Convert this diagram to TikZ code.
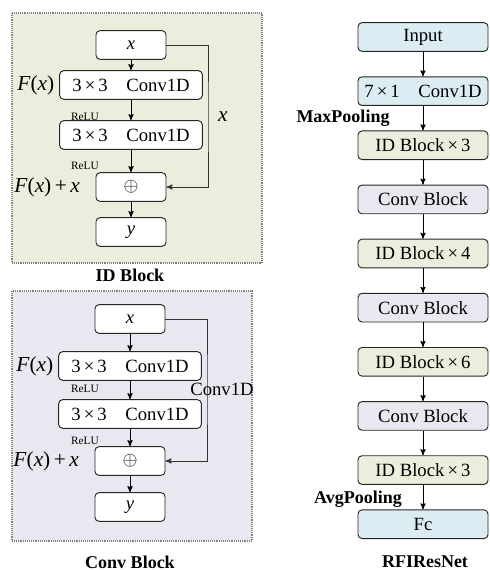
\documentclass[tikz,border=0pt]{standalone}
\usepackage{fontspec}
\setmainfont{Liberation Serif}
\usepackage{amsmath}
\usetikzlibrary{arrows,positioning}

\definecolor{idgreen}{HTML}{E9EFDC}
\definecolor{convlilac}{HTML}{EAE7F0}
\definecolor{ioblue}{HTML}{DBEDF3}

\begin{document}
\begin{tikzpicture}[->,>=stealth',x=0.75pt,y=-0.75pt,line width=0.7pt,
                    node distance=40.6pt]
  \tikzstyle{box}=[draw=black!85,rounded corners=3pt,inner sep=0pt,
                   minimum height=21.5pt,font=\fontsize{14}{16}\selectfont]
  \tikzstyle{small}=[box,minimum width=52.5pt,fill=white]
  \tikzstyle{wide}=[box,minimum width=107pt,fill=white]
  \tikzstyle{stage}=[box,minimum width=97.5pt]
  \tikzstyle{panel}=[-,draw=gray,dash pattern=on 0.7pt off 0.7pt,line width=0.8pt]
  \tikzstyle{caption}=[font=\bfseries\fontsize{13.5}{15}\selectfont]
  \tikzstyle{relu}=[font=\fontsize{8.5}{10}\selectfont]
  \tikzstyle{fx}=[font=\fontsize{16}{18}\selectfont]

  \useasboundingbox (0,0) rectangle (489,570);

  % ID block
  \path[panel,fill=idgreen] (12,13) rectangle (262,263);
  \node[small] (ix)  at (131,45)  {\textit{x}};
  \node[wide]  (ic1) at (131,85)  {3\,×\,3\quad Conv1D};
  \node[wide]  (ic2) at (131,135) {3\,×\,3\quad Conv1D};
  \node[small] (ip)  at (131,187) {$\oplus$};
  \node[small] (iy)  at (131,232) {\textit{y}};
  \coordinate (iskip) at (208,117);

  \node[fx,anchor=east] (ifx) at (ic1.west) {\textit{F}(\textit{x})};
  \node[fx] (ifxx) [left=8pt of ip] {\textit{F}(\textit{x})\,+\,\textit{x}};
  \node[relu] (irelu1) at (85,117) {ReLU};
  \node[relu] (irelu2) at (85,166) {ReLU};
  \node[fx] (ixlbl) [right=4pt of iskip] {\textit{x}};
  \node[caption] (icap) at (130,275) {ID Block};

  \path (ix) edge (ic1)
        (ic1) edge (ic2)
        (ic2) edge (ip)
        (ip) edge (iy);
  \draw[black!80] (ix.east) -| (iskip) |- (ip.east);

  % Conv block
  \path[panel,fill=convlilac] (12,291) rectangle (252,541);
  \node[small] (cx)  at (130,319) {\textit{x}};
  \node[wide]  (cc1) at (130,366) {3\,×\,3\quad Conv1D};
  \node[wide]  (cc2) at (130,414) {3\,×\,3\quad Conv1D};
  \node[small] (cp)  at (130,461) {$\oplus$};
  \node[small] (cy)  at (130,507) {\textit{y}};
  \coordinate (cskip) at (207,389);

  \node[fx,anchor=east] (cfx) at (cc1.west) {\textit{F}(\textit{x})};
  \node[fx] (cfxx) [left=8pt of cp] {\textit{F}(\textit{x})\,+\,\textit{x}};
  \node[relu] (crelu1) at (85,389) {ReLU};
  \node[relu] (crelu2) at (85,441) {ReLU};
  \node[caption] (ccap) at (130,562) {Conv Block};

  \path (cx) edge (cc1)
        (cc1) edge (cc2)
        (cc2) edge (cp)
        (cp) edge (cy);
  \draw[black!80] (cx.east) -| (cskip) |- (cp.east);
  \node[font=\fontsize{14}{16}\selectfont] (cconv) at (222,389) {Conv1D};

  % RFIResNet
  \node[stage,fill=ioblue]    (in)  at (423,37)  {Input};
  \node[stage,fill=ioblue]    (c7)  [below of=in] {7\,×\,1\quad Conv1D};
  \node[stage,fill=idgreen]   (id1) [below of=c7] {ID Block\,×\,3};
  \node[stage,fill=convlilac] (cb1) [below of=id1] {Conv Block};
  \node[stage,fill=idgreen]   (id2) [below of=cb1] {ID Block\,×\,4};
  \node[stage,fill=convlilac] (cb2) [below of=id2] {Conv Block};
  \node[stage,fill=idgreen]   (id3) [below of=cb2] {ID Block\,×\,6};
  \node[stage,fill=convlilac] (cb3) [below of=id3] {Conv Block};
  \node[stage,fill=idgreen]   (id4) [below of=cb3] {ID Block\,×\,3};
  \node[stage,fill=ioblue]    (fc)  [below of=id4] {Fc};

  \node[caption] (maxp) at (343,118) {MaxPooling};
  \node[caption] (avgp) at (358,499) {AvgPooling};
  \node[caption] (rcap) at (425,562) {RFIResNet};

  \path (in) edge (c7)
        (c7) edge (id1)
        (id1) edge (cb1)
        (cb1) edge (id2)
        (id2) edge (cb2)
        (cb2) edge (id3)
        (id3) edge (cb3)
        (cb3) edge (id4)
        (id4) edge (fc);
\end{tikzpicture}
\end{document}
